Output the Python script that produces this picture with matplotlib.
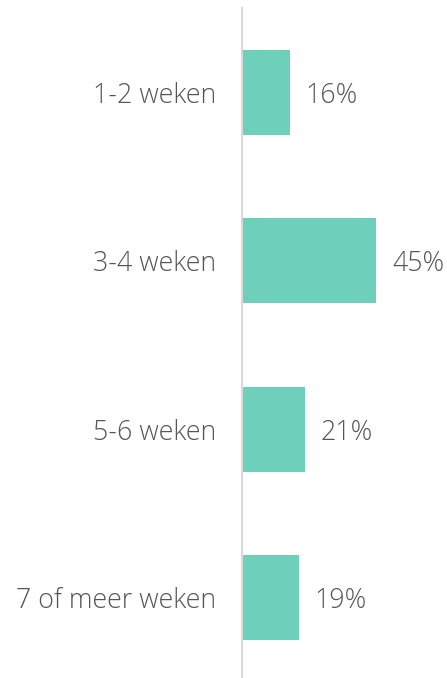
import matplotlib
matplotlib.use("Agg")
import matplotlib.pyplot as plt

categories = ["1-2 weken", "3-4 weken", "5-6 weken", "7 of meer weken"]
values = [16, 45, 21, 19]
value_labels = ["16%", "45%", "21%", "19%"]

plt.rcParams['font.family'] = ['Open Sans', 'DejaVu Sans']
plt.rcParams['font.weight'] = 'light'
TEXT = "#555555"
BAR = "#6ecfbb"
FS = 19.3

fig = plt.figure(figsize=(4.47, 6.78), dpi=100)
ax = fig.add_axes([242/447, 0, 1 - 242/447, 1 - 8/678])
y = list(range(len(categories)))
ax.barh(y, values, height=0.506, color=BAR)
ax.set_ylim(3.479, -0.503)
ax.set_xlim(0, 205/2.978)

for yi, v, lab in zip(y, values, value_labels):
    ax.annotate(lab, (v, yi), xytext=(16*0.72, 0), textcoords="offset points",
                va="center_baseline", ha="left", fontsize=FS, color=TEXT,
                fontweight="light")

ax.set_yticks(y)
ax.set_yticklabels(categories, fontsize=FS, color=TEXT, fontweight="light",
                   va="center_baseline")
ax.tick_params(axis="y", length=0, pad=26*0.72)
ax.set_xticks([])
for s in ["top", "right", "bottom"]:
    ax.spines[s].set_visible(False)
ax.spines["left"].set_color("#d9d9d9")
ax.spines["left"].set_linewidth(1.5)

fig.savefig("out.png", dpi=100)
